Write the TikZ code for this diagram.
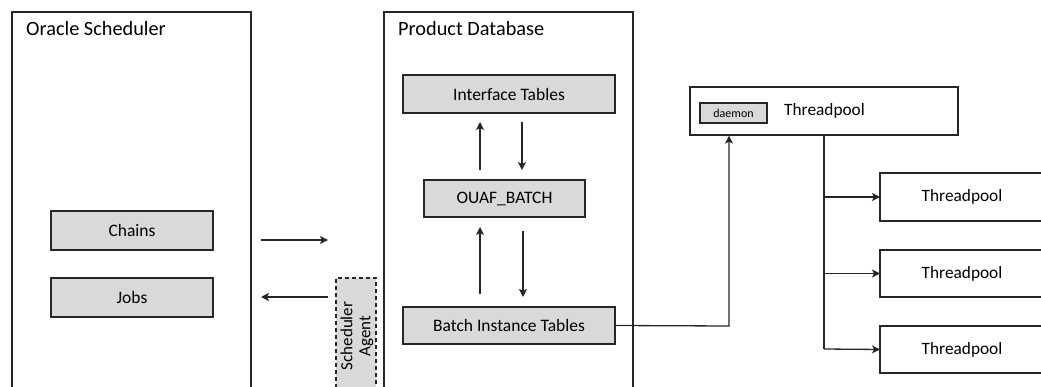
\documentclass[tikz,border=0pt]{standalone}
\usepackage{fontspec}
\setmainfont{Carlito}
\usetikzlibrary{arrows.meta}
\definecolor{ln}{HTML}{262626}
\definecolor{fl}{HTML}{D9D9D9}
\tikzset{
  frame/.style={draw=ln, line width=1.3pt},
  graybox/.style={draw=ln, line width=1.3pt, fill=fl, inner sep=0pt, font=\fontsize{17.5}{20}\selectfont},
  whitebox/.style={draw=ln, line width=1.3pt, fill=white, inner sep=0pt},
  title/.style={anchor=base west, inner sep=0pt, font=\fontsize{20.3}{23}\selectfont},
  arr/.style={draw=ln, line width=1.3pt, -{Stealth[length=8pt,width=8pt,inset=2pt]}},
}
\begin{document}
\begin{tikzpicture}[x=1pt,y=-1pt]
\useasboundingbox (0,0) rectangle (1041,387);
% Oracle Scheduler container
\draw[frame] (12,388) -- (12,12) -- (251,12) -- (251,388);
\node[title] (ostitle) at (26,36) {Oracle Scheduler};
\node[graybox, minimum width=162pt, minimum height=39pt] (chains) at (132,230.5) {Chains};
\node[graybox, minimum width=162pt, minimum height=39pt] (jobs) at (132,297.5) {Jobs};
% arrows between
\coordinate (a1s) at (261,240);
\coordinate (a1e) at (328,240);
\coordinate (a2s) at (328,297);
\coordinate (a2e) at (261,297);
\draw[arr] (a1s) -- (a1e);
\draw[arr] (a2s) -- (a2e);
% Scheduler Agent
\fill[fl] (336,278) rectangle (376,388);
\draw[draw=ln, line width=1.3pt, dash pattern=on 4pt off 3pt] (336,388) -- (336,278) -- (376,278) -- (376,388);
\node[rotate=90, align=center, inner sep=0pt, font=\fontsize{17}{18}\selectfont] (agent) at (357,336) {Scheduler\\Agent};
% Product Database container
\draw[frame] (384,388) -- (384,12) -- (633,12) -- (633,388);
\node[title] (pdtitle) at (398,36) {Product Database};
\node[graybox, minimum width=212pt, minimum height=38pt] (iface) at (509,94) {Interface Tables};
\node[graybox, minimum width=161pt, minimum height=37pt] (ouaf) at (504.5,198.5) {OUAF\_BATCH};
\node[graybox, minimum width=212pt, minimum height=37pt] (bit) at (509,325.5) {Batch Instance Tables};
\draw[arr] (480,170) -- (480,122);
\draw[arr] (522,122) -- (522,170);
\draw[arr] (480,294) -- (480,227);
\draw[arr] (523,231) -- (523,297);
% Threadpool main
\node[whitebox, minimum width=268pt, minimum height=48pt] (tp) at (824,111) {};
\node[graybox, minimum width=67pt, minimum height=20pt, font=\fontsize{12}{14}\selectfont] (daemon) at (733.5,113) {daemon};
\node[anchor=west, inner sep=0pt, font=\fontsize{17.3}{19}\selectfont] (tptext) at (784,111) {Threadpool};
\coordinate (elbow) at (729,326);
\draw[arr] (bit.east) -- (elbow) -- (elbow |- tp.south);
% child threadpools
\foreach \i/\yt/\yb in {1/173/221, 2/250/297, 3/326/373}{
  \draw[frame] (1042,\yt) -- (880,\yt) -- (880,\yb) -- (1042,\yb);
  \coordinate (c\i) at (880,{(\yt+\yb)/2});
  \node[inner sep=0pt, font=\fontsize{17.3}{19}\selectfont] (ct\i) at (962,{(\yt+\yb)/2}) {Threadpool};
}
\coordinate (trunk) at (824,349);
\draw[draw=ln, line width=1.3pt] (tp.south) -- (trunk);
\draw[arr] (824,197) -- (c1);
\draw[arr] (824,273.5) -- (c2);
\draw[arr] (trunk) -- (c3);
\end{tikzpicture}
\end{document}
